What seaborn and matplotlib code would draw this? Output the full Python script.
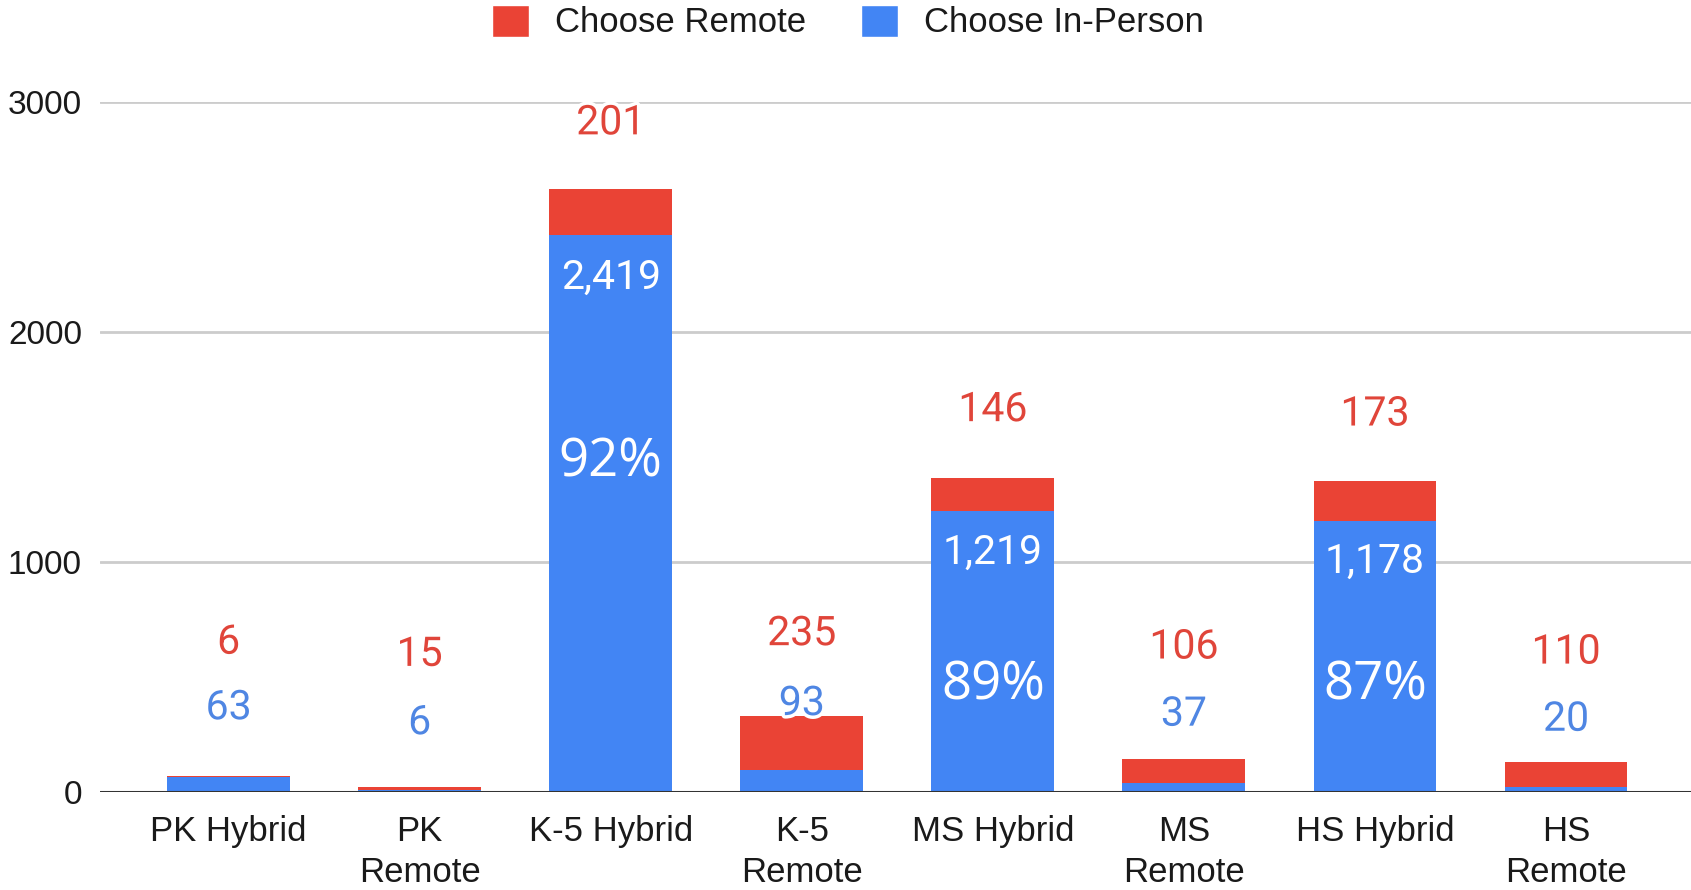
import pandas as pd
import numpy as np
import matplotlib.pyplot as plt
import matplotlib.patheffects as pe
from matplotlib.patches import Patch
import seaborn as sns

sns.set_style("white")
plt.rcParams["font.family"] = ["Liberation Sans", "DejaVu Sans"]

# datos
categories = ["PK Hybrid", "PK\nRemote", "K-5 Hybrid", "K-5\nRemote",
              "MS Hybrid", "MS\nRemote", "HS Hybrid", "HS\nRemote"]
in_person = [63, 6, 2419, 93, 1219, 37, 1178, 20]
remote = [6, 15, 201, 235, 146, 106, 173, 110]

# posiciones de las etiquetas (como las pone Google Sheets)
remote_label_y = [650, 597, 2908, 687, 1661, 629, 1642, 607]
person_label_y = [365, 300, 2236, 383, 1039, 337, 1002, 315]
pct_label_y = {2: 1430, 4: 460, 6: 460}

RED = "#EA4335"
BLUE = "#4285F4"
RED_TXT = "#E0453A"
BLUE_TXT = "#4F86E3"
NUM_FONT = ["Roboto", "DejaVu Sans"]

df = pd.DataFrame({"cat": categories, "in_person": in_person, "remote": remote})
df["total"] = df["in_person"] + df["remote"]

fig = plt.figure(figsize=(16.91, 8.9), dpi=100)
ax = fig.add_axes([100 / 1691, 98.3 / 890, 1591 / 1691, 690 / 890])

sns.barplot(data=df, x="cat", y="total", color=RED, saturation=1, width=0.643,
            linewidth=0, ax=ax)
sns.barplot(data=df, x="cat", y="in_person", color=BLUE, saturation=1, width=0.643,
            linewidth=0, ax=ax)

ax.set_ylim(0, 3000)
ax.set_xlim(-0.673, 7.654)
ax.set_yticks([0, 1000, 2000, 3000])
ax.yaxis.grid(True, color="#cccccc", lw=2)
ax.set_axisbelow(True)
ax.axhline(0, color="#333333", lw=2.2, zorder=5)
sns.despine(ax=ax, left=True, bottom=True, top=True, right=True)
ax.set_xlabel("")
ax.set_ylabel("")
ax.tick_params(axis="y", length=0, pad=13, labelsize=24, labelcolor="#1a1a1a")
ax.tick_params(axis="x", length=0, pad=17, labelsize=25, labelcolor="#1a1a1a")
for t in ax.get_xticklabels():
    t.set_linespacing(1.3)

halo = [pe.withStroke(linewidth=5, foreground="white")]
for i in range(len(categories)):
    ax.text(i, remote_label_y[i], f"{remote[i]:,}", color=RED_TXT, fontsize=29.5,
            family=NUM_FONT, ha="center", va="center", path_effects=halo,
            clip_on=False, zorder=6)
    if person_label_y[i] < in_person[i]:
        ax.text(i, person_label_y[i], f"{in_person[i]:,}", color="white", fontsize=29.5,
                family=NUM_FONT, ha="center", va="center", zorder=6)
    else:
        ax.text(i, person_label_y[i], f"{in_person[i]:,}", color=BLUE_TXT, fontsize=29.5,
                family=NUM_FONT, ha="center", va="center", path_effects=halo, zorder=6)

for i, y in pct_label_y.items():
    pct = round(100 * in_person[i] / (in_person[i] + remote[i]))
    ax.text(i, y, f"{pct}%", color="white", fontsize=38, family=["Open Sans", "DejaVu Sans"],
            ha="center", va="center", zorder=6)

handles = [Patch(facecolor=RED, label="Choose Remote"),
           Patch(facecolor=BLUE, label="Choose In-Person")]
fig.legend(handles=handles, loc="center", bbox_to_anchor=(848 / 1691, 1 - 22 / 890),
           ncol=2, frameon=False, fontsize=25, handlelength=1.05, handleheight=1.05,
           handletextpad=0.75, columnspacing=1.6, labelcolor="#1a1a1a")

fig.savefig("out.png", dpi=100)
